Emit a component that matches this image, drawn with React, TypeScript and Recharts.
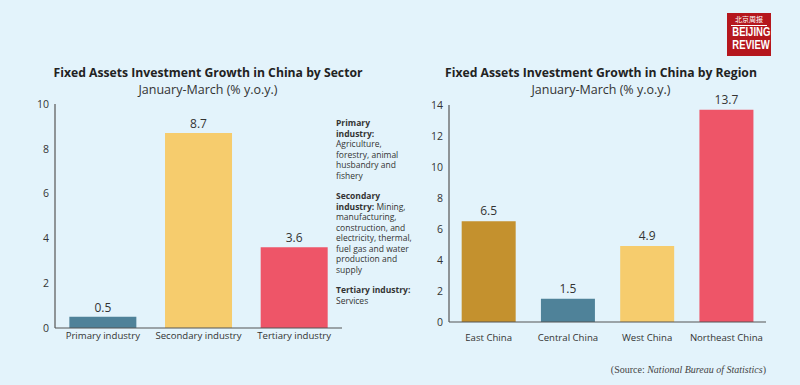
import { BarChart, Bar, XAxis, YAxis, Cell, LabelList } from "recharts";

const sectorNames = ["Primary industry", "Secondary industry", "Tertiary industry"];
const sectorValues = [0.5, 8.7, 3.6];
const sectorColors = ["#4f8299", "#f6cc6d", "#ee5568"];
const sectorTicks = [0, 2, 4, 6, 8, 10];

const regionNames = ["East China", "Central China", "West China", "Northeast China"];
const regionValues = [6.5, 1.5, 4.9, 13.7];
const regionColors = ["#c4912e", "#4f8299", "#f6cc6d", "#ee5568"];
const regionTicks = [0, 2, 4, 6, 8, 10, 12, 14];

const sectorData = sectorNames.map((name, i) => ({ name, value: sectorValues[i] }));
const regionData = regionNames.map((name, i) => ({ name, value: regionValues[i] }));

const FONT = "'Open Sans', sans-serif";
const yTickStyle = { fontSize: 10.5, fill: "#333", fontFamily: FONT };
const xTickStyle = { fontSize: 9.6, fill: "#333", fontFamily: FONT };

const titleStyle: React.CSSProperties = {
  position: "absolute",
  textAlign: "center",
  fontFamily: FONT,
  fontWeight: 700,
  fontSize: 12.2,
  color: "#222",
  whiteSpace: "nowrap",
};

const subStyle: React.CSSProperties = {
  position: "absolute",
  textAlign: "center",
  fontFamily: FONT,
  fontSize: 12.5,
  color: "#333",
  whiteSpace: "nowrap",
};

const logoWord: React.CSSProperties = {
  fontSize: 12.5,
  lineHeight: "13px",
  transform: "scaleX(0.76)",
  whiteSpace: "nowrap",
};

const App = () => {
  return (
    <div
      style={{
        position: "absolute",
        left: 0,
        top: 0,
        width: 800,
        height: 385,
        background: "#e3f3fb",
        overflow: "hidden",
      }}
    >
      <div style={{ ...titleStyle, left: 8, width: 400, top: 64 }}>
        Fixed Assets Investment Growth in China by Sector
      </div>
      <div style={{ ...subStyle, left: 8, width: 400, top: 81 }}>January-March (% y.o.y.)</div>

      <div style={{ ...titleStyle, left: 401, width: 400, top: 64 }}>
        Fixed Assets Investment Growth in China by Region
      </div>
      <div style={{ ...subStyle, left: 401, width: 400, top: 81 }}>January-March (% y.o.y.)</div>

      <div style={{ position: "absolute", left: 0, top: 0 }}>
        <BarChart
          width={400}
          height={385}
          data={sectorData}
          margin={{ top: 104, left: 15, right: 58, bottom: 27 }}
          barCategoryGap="15%"
        >
          <YAxis
            width={40}
            domain={[0, 10]}
            ticks={sectorTicks}
            tickLine={false}
            tickMargin={0}
            axisLine={{ stroke: "#555", strokeWidth: 1.2 }}
            tick={yTickStyle}
          />
          <XAxis
            dataKey="name"
            tickLine={false}
            tickSize={4}
            tickMargin={0}
            axisLine={{ stroke: "#555", strokeWidth: 1.2 }}
            tick={xTickStyle}
            interval={0}
          />
          <Bar dataKey="value" isAnimationActive={false}>
            {sectorData.map((d, i) => (
              <Cell key={d.name} fill={sectorColors[i]} />
            ))}
            <LabelList dataKey="value" position="top" offset={5} style={{ fontSize: 12, fill: "#333", fontFamily: FONT }} />
          </Bar>
        </BarChart>
      </div>

      <div style={{ position: "absolute", left: 400, top: 0 }}>
        <BarChart
          width={400}
          height={385}
          data={regionData}
          margin={{ top: 105, left: 9, right: 34, bottom: 33 }}
          barCategoryGap="16%"
        >
          <YAxis
            width={40}
            domain={[0, 14]}
            ticks={regionTicks}
            tickLine={false}
            tickMargin={0}
            axisLine={{ stroke: "#555", strokeWidth: 1.2 }}
            tick={yTickStyle}
          />
          <XAxis
            dataKey="name"
            tickLine={false}
            tickSize={8}
            tickMargin={4}
            axisLine={{ stroke: "#555", strokeWidth: 1.2 }}
            tick={xTickStyle}
            interval={0}
          />
          <Bar dataKey="value" isAnimationActive={false}>
            {regionData.map((d, i) => (
              <Cell key={d.name} fill={regionColors[i]} />
            ))}
            <LabelList dataKey="value" position="top" offset={6} style={{ fontSize: 12, fill: "#333", fontFamily: FONT }} />
          </Bar>
        </BarChart>
      </div>

      {/* sector notes */}
      <div
        style={{
          position: "absolute",
          left: 336,
          top: 118,
          width: 80,
          fontFamily: FONT,
          fontSize: 8.5,
          lineHeight: "10.5px",
          color: "#333",
        }}
      >
        <b>Primary</b>
        <br />
        <b>industry:</b>
        <br />
        Agriculture,
        <br />
        forestry, animal
        <br />
        husbandry and
        <br />
        fishery
        <div style={{ height: 10 }} />
        <b>Secondary</b>
        <br />
        <b>industry:</b> Mining,
        <br />
        manufacturing,
        <br />
        construction, and
        <br />
        electricity, thermal,
        <br />
        fuel gas and water
        <br />
        production and
        <br />
        supply
        <div style={{ height: 10 }} />
        <b>Tertiary industry:</b>
        <br />
        Services
      </div>

      {/* logo */}
      <div
        style={{
          position: "absolute",
          left: 727,
          top: 13,
          width: 44,
          height: 43,
          background: "#b5161d",
          color: "#fff",
          textAlign: "center",
          fontFamily: "'Liberation Sans', sans-serif",
          fontWeight: 700,
          overflow: "hidden",
        }}
      >
        <div style={{ fontSize: 7, lineHeight: "9px", paddingTop: 2, fontFamily: "'Noto Sans CJK SC', sans-serif", fontWeight: 400 }}>
          北京周报
        </div>
        <div style={{ height: 1, background: "#fff", margin: "1px 4px 0" }} />
        <div style={logoWord}>BEIJING</div>
        <div style={logoWord}>REVIEW</div>
      </div>

      <div
        style={{
          position: "absolute",
          right: 34,
          top: 364,
          fontFamily: "'Liberation Serif', serif",
          fontSize: 10,
          color: "#444",
          whiteSpace: "nowrap",
        }}
      >
        (Source: <i>National Bureau of Statistics</i>)
      </div>
    </div>
  );
};

export default App;
